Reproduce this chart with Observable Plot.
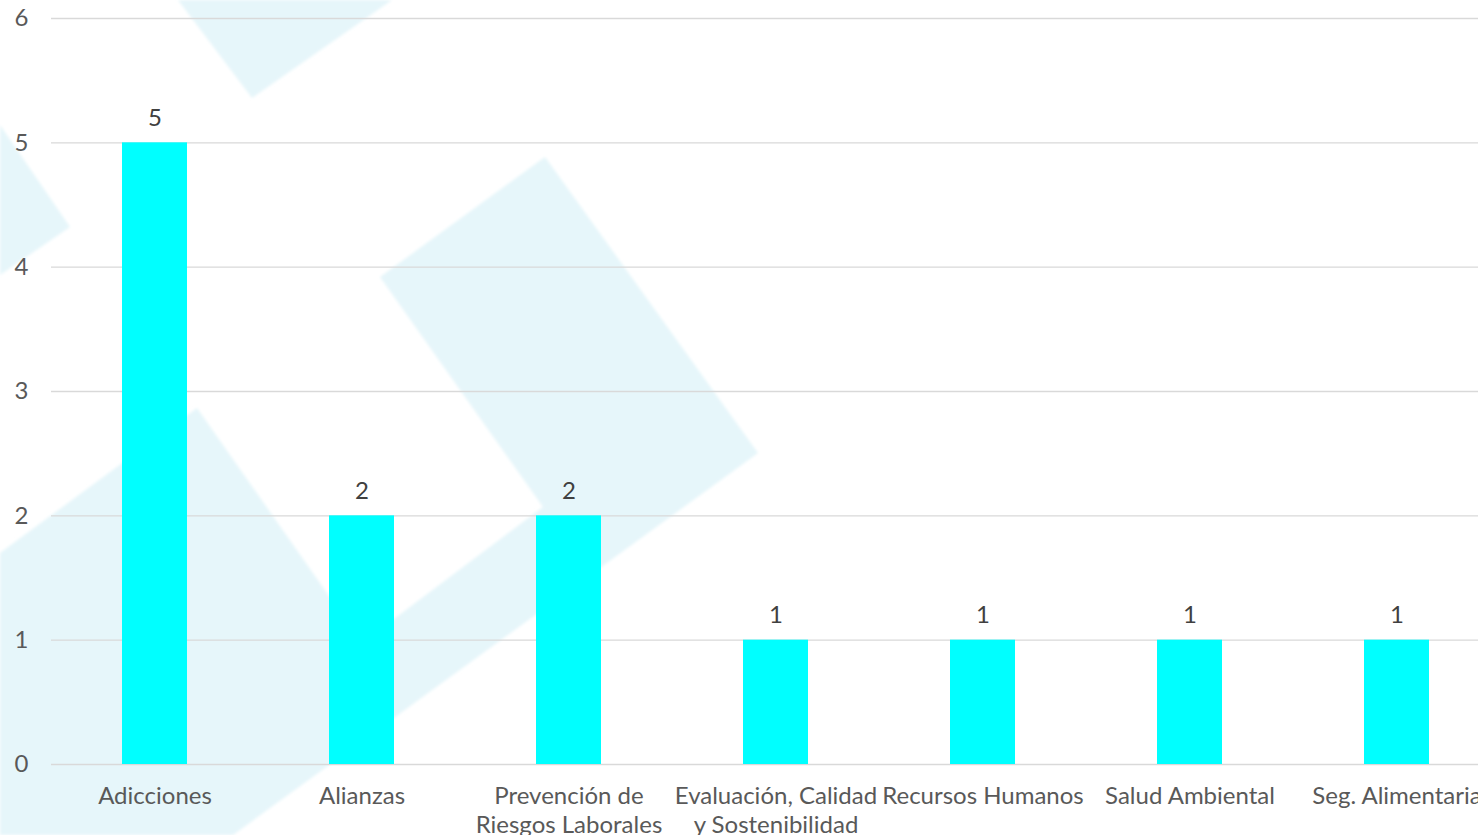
<!DOCTYPE html>
<html><head><meta charset="utf-8">
<script src="https://cdn.jsdelivr.net/npm/d3@7"></script>
<script src="https://cdn.jsdelivr.net/npm/@observablehq/plot@0.6"></script>
<style>
html,body{margin:0;padding:0;background:#fff;overflow:hidden;width:1478px;height:835px;}
#wrap{position:relative;width:1478px;height:835px;overflow:hidden;}
#bg{position:absolute;left:0;top:0;}
#chart{position:absolute;left:0;top:0;width:1500px;}
#chart svg{max-width:none !important;width:1500px !important;height:835px !important;}
</style></head><body>
<div id="wrap">
<svg id="bg" width="1478" height="835" aria-hidden="true">
<defs><filter id="soft"><feGaussianBlur stdDeviation="1.5"/></filter></defs>
<g fill="#e6f6fa" filter="url(#soft)">
<polygon points="178,0 252,98 392,0"/>
<polygon points="0,125 70,227 0,275"/>
<polygon points="0,553 197,408 362,643 543,507 380,277 545,157 758,453 233,835 0,835"/>
</g></svg>
<div id="chart"></div></div>
<script>
const categories = ["Adicciones","Alianzas","Prevención de Riesgos Laborales","Evaluación, Calidad y Sostenibilidad","Recursos Humanos","Salud Ambiental","Seg. Alimentaria"];
const tickLabels = ["Adicciones","Alianzas","Prevención de\nRiesgos Laborales","Evaluación, Calidad\ny Sostenibilidad","Recursos Humanos","Salud Ambiental","Seg. Alimentaria"];
const values = [5,2,2,1,1,1,1];
const yTicks = [0,1,2,3,4,5,6];

const data = categories.map((c,i)=>({category:c, value:values[i]}));
const chart = Plot.plot({
  width:1500, height:835,
  marginLeft:51, marginRight:0, marginTop:18, marginBottom:71,
  style:{fontFamily:"Lato", background:"transparent", overflow:"visible"},
  x:{domain:categories, paddingInner:0.686, paddingOuter:0.343, label:null},
  y:{domain:[0,6], label:null},
  marks:[
    Plot.gridY(yTicks, {stroke:"#d9d9d9", strokeOpacity:1, strokeWidth:1.3}),
    Plot.barY(data,{x:"category", y:"value", fill:"#00ffff"}),
    Plot.text(data,{x:"category", y:"value", text:d=>String(d.value), dy:-17, lineAnchor:"bottom", fontSize:24, fill:"#404040"}),
    Plot.axisY(yTicks,{tickSize:0, tickPadding:23, fontSize:24, fill:"#595959", label:null, tickFormat:d=>String(d)}),
    Plot.axisX({tickSize:0, tickPadding:19, fontSize:24, fill:"#595959", lineHeight:1.2, label:null,
      tickFormat:d=>tickLabels[categories.indexOf(d)]})
  ]
});
document.getElementById("chart").appendChild(chart);
</script>
</body></html>
